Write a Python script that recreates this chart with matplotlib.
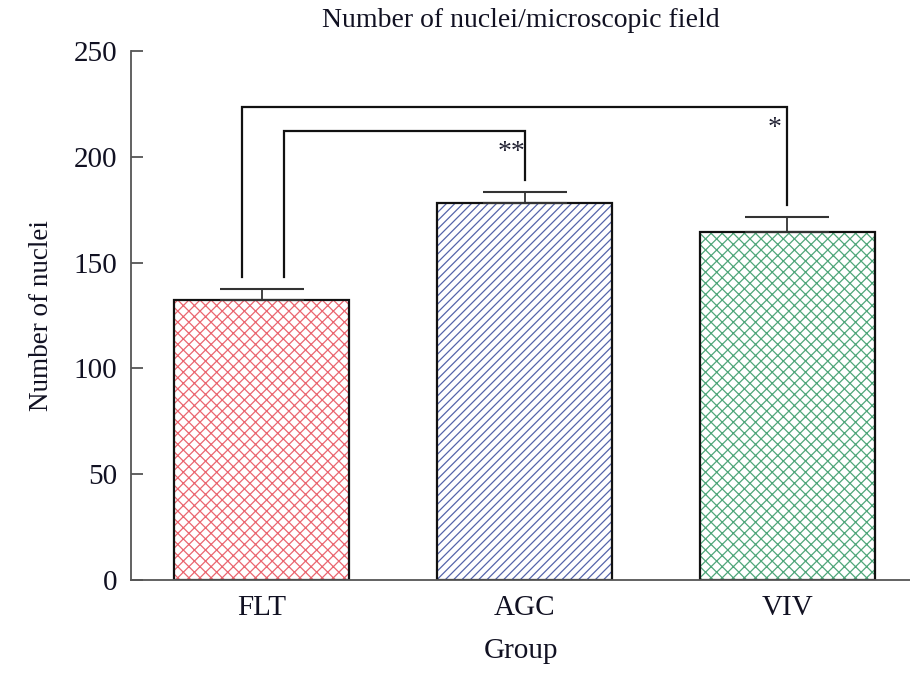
import matplotlib.pyplot as plt
import numpy as np

plt.rcParams['font.family'] = ['Liberation Serif', 'DejaVu Serif']
plt.rcParams['hatch.linewidth'] = 0.9

# data
groups = ['FLT', 'AGC', 'VIV']
means = [132.5, 178, 164.5]
errors = [5, 5.5, 7]
colors = ['#ea6670', '#5565aa', '#4fa67a']
hatches = ['xxx', '////', 'xxx']

# significance brackets: (left group, right group, bracket height, label)
bracket_pairs = [(0, 2, 223.5, '*'), (0, 1, 212, '**')]

x = np.arange(len(groups))

fig = plt.figure(figsize=(9.1, 6.74), dpi=100)
ax = fig.add_axes([0.144, 0.1395, 0.856, 0.785])

# hatched fill, then black outline on top
ax.bar(x, means, width=0.667, color='white', edgecolor=colors, hatch=hatches, linewidth=0)
ax.bar(x, means, width=0.667, fill=False, edgecolor='#111111', linewidth=1.6)

ax.errorbar(x, means, yerr=[np.zeros(len(x)), errors], fmt='none', ecolor='#333333',
            elinewidth=1.3, capsize=30, capthick=1.5)

# brackets
leg_offsets = {'*': -0.076, '**': 0.084}
for left, right, height, label in bracket_pairs:
    lx = x[left] + leg_offsets[label]
    rx = x[right]
    l_end = means[left] + errors[left] + 5.5
    r_end = means[right] + errors[right] + 5.5
    ax.plot([lx, lx, rx, rx], [l_end, height, height, r_end], color='#111111', lw=1.6,
            solid_joinstyle='miter')
    ax.text(rx - 0.05, height - 10, label, ha='center', va='center', fontsize=20, color='#222233')

ax.set_xlim(-0.497, 2.466)
ax.set_ylim(0, 250)
ax.set_yticks([0, 50, 100, 150, 200, 250])
ax.set_xticks(x)
ax.set_xticklabels(groups)

for side in ['top', 'right']:
    ax.spines[side].set_visible(False)
for side in ['left', 'bottom']:
    ax.spines[side].set_color('#555555')
    ax.spines[side].set_linewidth(1.3)

ax.tick_params(axis='y', direction='in', length=8.6, width=1.3, color='#555555',
               labelsize=21, pad=10, labelcolor='#111122')
ax.tick_params(axis='x', length=0, labelsize=21, pad=11, labelcolor='#111122')

ax.set_xlabel('Group', fontsize=21, labelpad=12, color='#111122')
ax.set_ylabel('Number of nuclei', fontsize=19.5, labelpad=14, color='#111122')
ax.set_title('Number of nuclei/microscopic field', fontsize=20, pad=17, color='#111122')

fig.savefig('out.png', dpi=100)
